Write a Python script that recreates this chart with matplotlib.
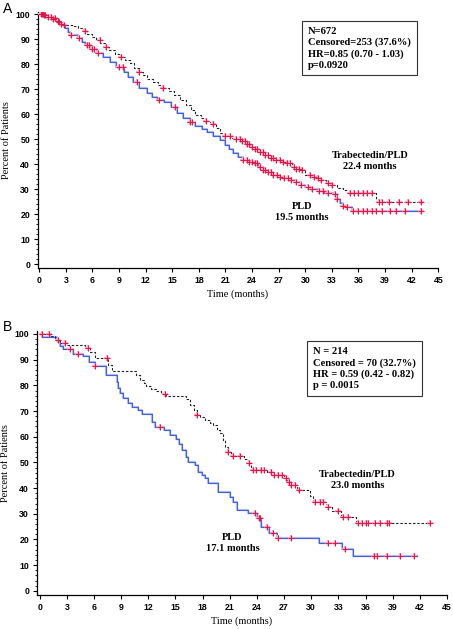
import numpy as np
import matplotlib
matplotlib.use("Agg")
import matplotlib.pyplot as plt

# ---- panel A : all patients (N=672) ----
a_trab_t = [0, 0.5, 1.0, 1.5, 2.0, 2.5, 2.9, 3.8, 4.4, 4.9, 5.4, 5.9, 6.4, 6.9, 7.4, 7.9, 8.5, 9.1, 9.7,
            10.2, 10.7, 11.2, 11.7, 12.2, 12.8, 13.4, 14.0, 14.6, 15.2, 15.9, 16.5, 17.1, 17.6, 18.2, 18.8,
            19.3, 19.9, 20.4, 21.0, 21.6, 22.1, 22.7, 23.3, 23.8, 24.3, 24.9, 25.5, 26.0, 26.6, 27.2, 27.9,
            28.5, 29.0, 29.5, 30.0, 30.6, 31.1, 31.7, 32.3, 33.0, 33.6, 34.2, 34.7, 38.0, 43.3]
a_trab_s = [100, 99.6, 99.0, 98.3, 97.4, 96.2, 95.6, 95.2, 94.4, 93.3, 92.2, 91.0, 89.6, 88.4, 86.9, 85.6,
            84.2, 82.8, 81.5, 80.3, 78.6, 77.0, 75.5, 74.2, 72.9, 71.5, 70.4, 69.4, 67.6, 65.6, 63.6, 61.5,
            59.6, 58.3, 57.3, 56.2, 54.3, 52.3, 51.2, 50.4, 49.9, 49.4, 48.0, 47.0, 46.1, 44.8, 43.5, 42.3,
            41.5, 40.9, 40.3, 39.0, 38.2, 37.6, 35.8, 35.0, 34.6, 33.6, 32.3, 31.6, 30.6, 29.6, 28.5, 25.0, 25.0]
a_trab_cens = [0.2, 0.4, 0.6, 1.3, 1.8, 2.1, 2.5, 5.2, 6.8, 7.5, 9.2, 11.2, 14.0, 18.8, 19.6, 21.0, 21.5,
               22.2, 22.6, 22.9, 23.2, 23.4, 23.7, 24.0, 24.3, 24.6, 24.9, 25.2, 25.5, 25.8, 26.1, 26.4,
               26.7, 27.1, 27.5, 27.9, 28.3, 28.7, 29.0, 29.3, 29.6, 30.5, 31.0, 31.4, 31.8, 32.6, 33.0,
               35.0, 35.5, 36.0, 36.5, 37.0, 37.5, 38.3, 38.7, 39.4, 40.6, 41.6, 43.0]

a_pld_t = [0, 0.5, 1.0, 1.5, 2.0, 2.5, 2.9, 3.2, 3.5, 4.4, 4.8, 5.2, 5.8, 6.5, 7.2, 8.0, 8.7, 9.5, 10.0,
           10.6, 11.3, 12.1, 12.7, 13.25, 14.1, 14.8, 15.5, 16.2, 17.0, 17.6, 18.3, 18.9, 19.6, 20.4, 20.9,
           21.4, 21.9, 22.4, 23.0, 23.6, 24.2, 24.7, 25.2, 25.7, 26.3, 26.9, 27.5, 28.2, 29.0, 29.5, 30.0,
           30.7, 31.4, 32.1, 33.2, 33.6, 33.9, 34.3, 34.7, 35.3, 43.3]
a_pld_s = [100, 99.6, 99.0, 98.2, 97.0, 95.5, 94.3, 92.8, 91.6, 90.3, 88.9, 87.6, 86.0, 84.3, 82.7, 80.9,
           79.0, 76.9, 74.9, 72.9, 70.6, 68.3, 66.9, 65.6, 65.0, 62.8, 60.3, 58.6, 56.9, 55.4, 54.0, 52.9,
           51.2, 49.6, 47.8, 46.0, 44.3, 42.9, 41.6, 41.0, 40.3, 38.8, 37.7, 36.9, 35.8, 35.0, 34.3, 33.6,
           32.9, 31.8, 30.9, 30.1, 29.3, 28.5, 28.2, 26.0, 24.3, 23.4, 22.7, 21.3, 21.3]
a_pld_cens = [0.3, 0.5, 1.0, 1.5, 2.2, 2.8, 3.6, 4.5, 5.4, 5.6, 5.9, 6.2, 6.6, 9.0, 9.4, 11.0, 13.5, 15.3,
              17.0, 17.2, 23.0, 23.4, 23.7, 24.0, 24.3, 24.6, 24.9, 25.2, 25.5, 25.8, 26.1, 26.4, 26.8,
              27.2, 27.6, 28.0, 28.4, 29.0, 29.5, 30.3, 30.8, 31.5, 32.0, 32.6, 33.3, 33.6, 34.3, 34.7,
              35.4, 36.0, 36.5, 37.0, 37.5, 38.0, 38.6, 39.5, 40.2, 41.2, 43.0]

# ---- panel B : subgroup (N=214) ----
b_trab_t = [0, 1.14, 1.7, 2.2, 3.0, 5.0, 5.6, 6.1, 7.5, 8.0, 10.6, 11.1, 11.5, 11.8, 12.3, 12.9, 13.4, 14.0,
            16.2, 16.6, 17.0, 17.4, 17.7, 18.3, 18.8, 19.2, 19.6, 19.9, 20.2, 20.5, 20.8, 21.1, 21.4, 22.6,
            23.0, 23.4, 25.1, 25.8, 27.0, 27.3, 27.7, 28.4, 29.9, 30.2, 31.6, 31.9, 32.3, 33.3, 34.9, 43.1]
b_trab_s = [100, 99.2, 97.7, 96.4, 95.7, 94.4, 93.1, 90.8, 87.8, 85.6, 84.0, 82.1, 80.8, 79.8, 78.6, 77.9,
            76.8, 75.9, 74.5, 72.4, 70.4, 68.6, 67.8, 66.4, 65.4, 64.6, 62.6, 61.4, 58.7, 56.1, 54.2, 53.2,
            52.6, 51.2, 49.9, 47.1, 46.4, 45.1, 43.8, 42.5, 41.2, 39.3, 37.0, 34.7, 33.8, 32.8, 30.9, 28.9,
            26.3, 26.3]
b_trab_cens = [0.3, 1.0, 2.0, 2.8, 5.3, 7.4, 13.9, 17.4, 20.8, 21.4, 22.1, 23.1, 23.6, 23.9, 24.5, 24.8,
               25.6, 25.9, 26.3, 26.8, 27.2, 27.5, 27.8, 28.2, 28.7, 30.4, 31.0, 31.3, 31.9, 33.0, 33.5,
               34.1, 35.2, 35.6, 36.1, 36.3, 37.1, 37.6, 38.4, 38.6, 43.1]

b_pld_t = [0, 0.3, 1.9, 2.2, 2.6, 3.7, 4.8, 5.4, 6.1, 7.3, 8.5, 8.7, 8.9, 9.2, 9.8, 10.2, 10.9, 11.3, 12.4,
           12.7, 13.7, 14.4, 15.1, 15.4, 15.7, 16.2, 16.4, 17.2, 17.5, 17.9, 18.3, 18.6, 19.7, 21.0, 21.4,
           21.8, 23.0, 24.0, 24.4, 25.3, 26.2, 30.9, 33.4, 34.6, 41.7]
b_pld_s = [100, 98.7, 97.4, 95.5, 94.2, 92.2, 91.4, 89.2, 87.5, 84.0, 81.4, 79.0, 76.9, 75.0, 73.3, 71.7,
           70.4, 68.7, 65.9, 63.9, 62.6, 60.7, 59.0, 57.0, 54.9, 52.3, 50.3, 49.0, 46.4, 45.1, 43.8, 41.9,
           38.6, 36.7, 34.7, 31.5, 30.2, 28.3, 25.0, 22.4, 20.5, 18.5, 16.2, 13.4, 13.4]
b_pld_cens = [3.4, 4.2, 6.1, 13.3, 23.8, 24.2, 24.35, 25.1, 25.8, 26.3, 27.8, 31.9, 32.6, 33.7, 36.9, 37.3,
              38.4, 39.8, 41.4]

stats_a = "N=672\nCensored=253 (37.6%)\nHR=0.85 (0.70 - 1.03)\np=0.0920"
stats_b = "N = 214\nCensored = 70 (32.7%)\nHR = 0.59 (0.42 - 0.82)\np = 0.0015"
lab_a = ["Trabectedin/PLD\n22.4 months", "PLD\n19.5 months"]
lab_b = ["Trabectedin/PLD\n23.0 months", "PLD\n17.1 months"]

SERIF = "Liberation Serif"
SANS = "Liberation Sans"
BLUE = "#4561d6"
RED = "#e3164a"


def surv_at(t, s, x):
    # value of the step function at time x
    i = np.searchsorted(np.asarray(t), np.asarray(x), side="right") - 1
    return np.asarray(s)[i]


def panel(ax, trab_t, trab_s, trab_c, pld_t, pld_s, pld_c, xmin, stats, labs, lab_pos, box_xy):
    ax.step(pld_t, pld_s, where="post", color="#b3c0f2", lw=1.6, zorder=2)
    ax.step(pld_t, pld_s, where="post", color=BLUE, lw=0.8, zorder=3)
    ax.step(trab_t, trab_s, where="post", color="#222222", lw=0.8, ls=(0, (2.2, 1.6)), zorder=3)
    for t, s, c in [(trab_t, trab_s, trab_c), (pld_t, pld_s, pld_c)]:
        ys = surv_at(t, s, c)
        ax.plot(c, ys, ls="none", marker="+", ms=4.4, mew=1.6, color="#f7b0c4", zorder=4)
        ax.plot(c, ys, ls="none", marker="+", ms=4, mew=0.75, color=RED, zorder=5)

    ax.set_xlim(xmin, 45)
    ax.set_ylim(-1.6, 101)
    ax.set_xticks(np.arange(0, 46, 3))
    ax.set_yticks(np.arange(0, 101, 10))
    ax.set_yticks(np.arange(0, 101, 2), minor=True)
    ax.tick_params(axis="both", which="major", direction="out", length=3, width=0.8, pad=2.5)
    ax.tick_params(axis="y", which="minor", direction="out", length=1.8, width=0.6)
    for lab in ax.get_xticklabels() + ax.get_yticklabels():
        lab.set_fontfamily(SANS)
        lab.set_fontweight("bold")
        lab.set_fontsize(6.3)
    for side in ["top", "right"]:
        ax.spines[side].set_visible(False)
    for side in ["left", "bottom"]:
        ax.spines[side].set_linewidth(0.9)

    ax.set_xlabel("Time (months)", family=SERIF, fontsize=7.5, labelpad=3.5)
    ax.set_ylabel("Percent of Patients", family=SERIF, fontsize=7.5)
    ax.yaxis.set_label_coords(-0.066, 0.5)

    ax.text(box_xy[0], box_xy[1], stats, transform=ax.transAxes, ha="left", va="top",
            family=SERIF, fontweight="bold", fontsize=7.6, linespacing=1.25,
            bbox=dict(boxstyle="square,pad=0.55", fc="white", ec="#333333", lw=0.8))
    for txt, (x, y) in zip(labs, lab_pos):
        ax.text(x, y, txt, ha="center", va="center", family=SERIF, fontweight="bold",
                fontsize=7.5, linespacing=1.3)


fig = plt.figure(figsize=(4.53, 6.29), dpi=100)
ax_a = fig.add_axes([0.0832, 0.5739, 0.8843, 0.4078])
ax_b = fig.add_axes([0.0810, 0.0541, 0.9057, 0.4190])

panel(ax_a, a_trab_t, a_trab_s, a_trab_cens, a_pld_t, a_pld_s, a_pld_cens, -0.18,
      stats_a, lab_a, [(37.3, 41.2), (29.6, 20.8)], (0.675, 0.94))
panel(ax_b, b_trab_t, b_trab_s, b_trab_cens, b_pld_t, b_pld_s, b_pld_cens, -0.33,
      stats_b, lab_b, [(35.1, 43.2), (21.3, 18.7)], (0.674, 0.94))

# panel letters
fig.text(3 / 453, 1 - 2 / 629, "A", family=SANS, fontsize=10, ha="left", va="top")
fig.text(3 / 453, 1 - 320 / 629, "B", family=SANS, fontsize=10, ha="left", va="top")

fig.savefig("out.png", dpi=100)
